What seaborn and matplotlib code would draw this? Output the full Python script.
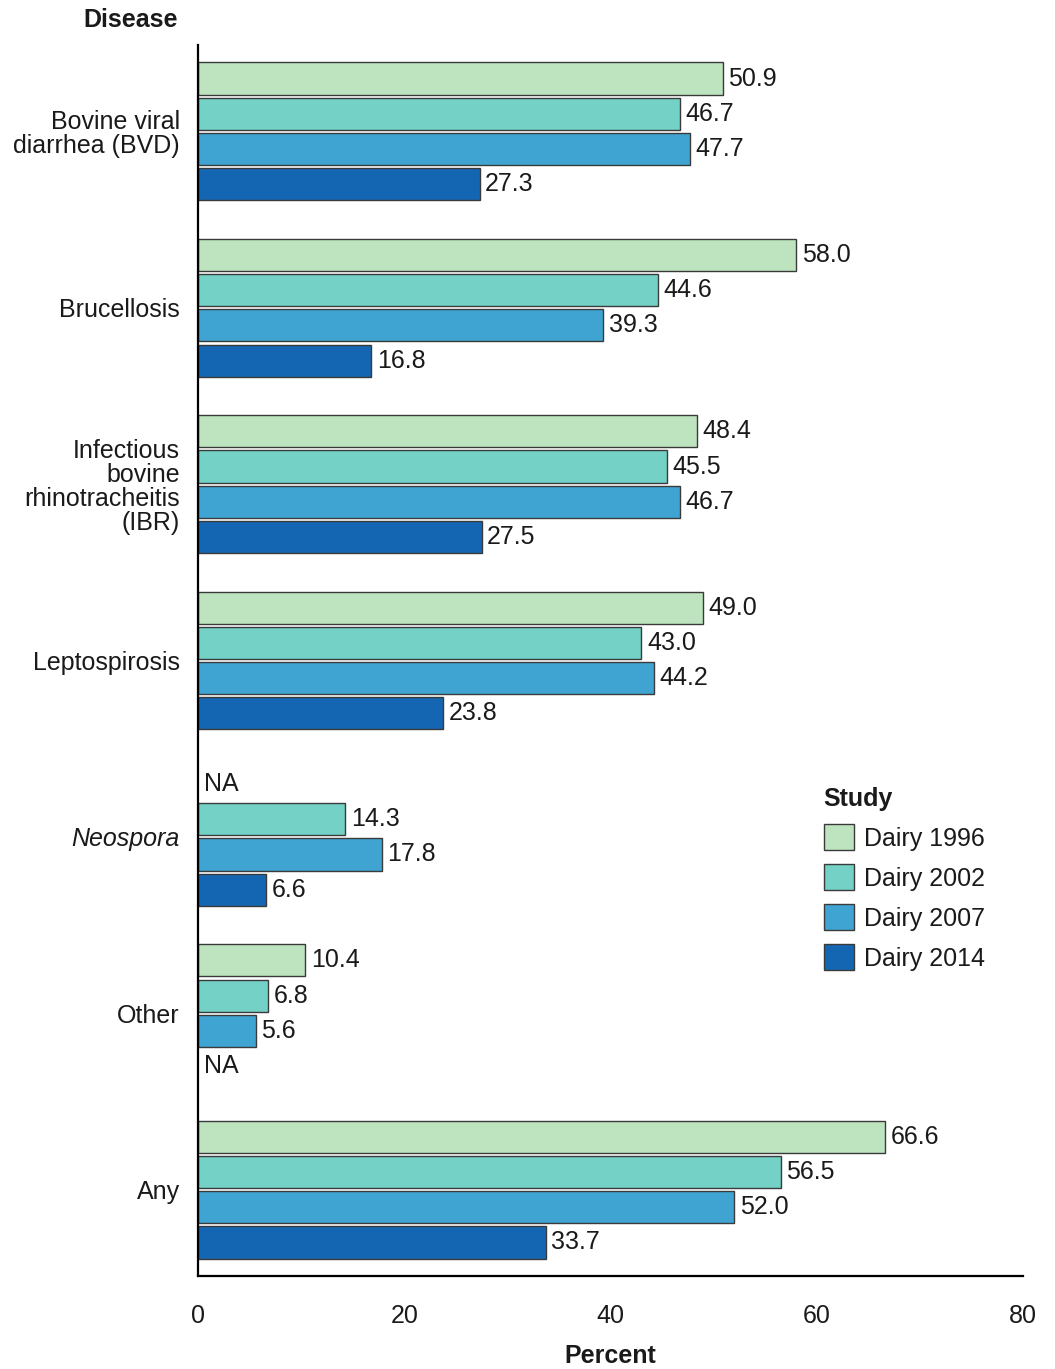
import numpy as np
import pandas as pd
import matplotlib
matplotlib.use("Agg")
import matplotlib.pyplot as plt
import seaborn as sns

diseases = ["Bovine viral\ndiarrhea (BVD)", "Brucellosis",
            "Infectious\nbovine\nrhinotracheitis\n(IBR)", "Leptospirosis",
            "Neospora", "Other", "Any"]
studies = ["Dairy 1996", "Dairy 2002", "Dairy 2007", "Dairy 2014"]
dairy_1996 = [50.9, 58.0, 48.4, 49.0, np.nan, 10.4, 66.6]
dairy_2002 = [46.7, 44.6, 45.5, 43.0, 14.3, 6.8, 56.5]
dairy_2007 = [47.7, 39.3, 46.7, 44.2, 17.8, 5.6, 52.0]
dairy_2014 = [27.3, 16.8, 27.5, 23.8, 6.6, np.nan, 33.7]
colors = ["#BDE3BF", "#73D1C5", "#3FA4D2", "#1566B2"]
xticks = [0, 20, 40, 60, 80]

series = [dairy_1996, dairy_2002, dairy_2007, dairy_2014]
rows = []
for s, vals in zip(studies, series):
    for d, v in zip(diseases, vals):
        rows.append({"Disease": d, "Study": s, "Percent": v})
df = pd.DataFrame(rows)

sns.set_theme(style="white")
plt.rcParams["font.family"] = ["Liberation Sans", "DejaVu Sans"]
plt.rcParams["font.size"] = 18

fig = plt.figure(figsize=(10.55, 13.69), dpi=100)
ax = fig.add_axes([198/1055, 1 - 1276/1369, (1023-198)/1055, (1276-45)/1369])

sns.barplot(data=df, y="Disease", x="Percent", hue="Study", order=diseases,
            hue_order=studies, palette=colors, orient="h", width=0.8, gap=0.09,
            edgecolor="#3a3a3a", linewidth=1, saturation=1, ax=ax, errorbar=None)

ax.set_xlim(0, 80)
ax.set_ylim(6.49, -0.49)
ax.set_xticks(xticks)
ax.set_xticklabels([str(t) for t in xticks], fontsize=18, color="#1a1a1a")
ax.tick_params(axis="x", length=0, pad=20)
ax.tick_params(axis="y", length=0, pad=13)
ax.set_yticks(range(len(diseases)))
ax.set_yticklabels(diseases, fontsize=18, color="#1a1a1a", linespacing=1.0)
ax.get_yticklabels()[4].set_fontstyle("italic")
ax.set_ylabel("")
ax.set_xlabel("Percent", fontsize=18, fontweight="bold", labelpad=12, color="#1a1a1a")

for sp in ["top", "right"]:
    ax.spines[sp].set_visible(False)
for sp in ["left", "bottom"]:
    ax.spines[sp].set_color("black")
    ax.spines[sp].set_linewidth(1.6)

# value labels
for j, cont in enumerate(ax.containers):
    offs = None
    for bar in cont:
        w = bar.get_width()
        if np.isfinite(w) and w > 0:
            yc = bar.get_y() + bar.get_height() / 2
            offs = yc - round(yc)
            break
    for i, v in enumerate(series[j]):
        y = i + offs
        if np.isnan(v):
            ax.annotate("NA", (0, y), xytext=(4, 0), textcoords="offset points",
                        va="center", ha="left", fontsize=18, color="#1a1a1a")
        else:
            ax.annotate(f"{v:.1f}", (v, y), xytext=(4, 0), textcoords="offset points",
                        va="center", ha="left", fontsize=18, color="#1a1a1a")

fig.text(131/1055, 1 - 20/1369, "Disease", fontsize=18, fontweight="bold",
         ha="center", va="center", color="#1a1a1a")

leg = ax.legend(title="Study", loc="upper left",
                bbox_to_anchor=(811/1055, 1 - 774/1369), bbox_transform=fig.transFigure,
                frameon=False, borderpad=0, handlelength=1.2, handleheight=1.2,
                handletextpad=0.4, labelspacing=0.55, fontsize=18,
                title_fontproperties={"weight": "bold", "size": 18}, alignment="left")
for h in leg.legend_handles:
    h.set_edgecolor("#3a3a3a")
    h.set_linewidth(1)
for t in leg.get_texts():
    t.set_color("#1a1a1a")
leg.get_title().set_color("#1a1a1a")

fig.savefig("out.png", dpi=100)
